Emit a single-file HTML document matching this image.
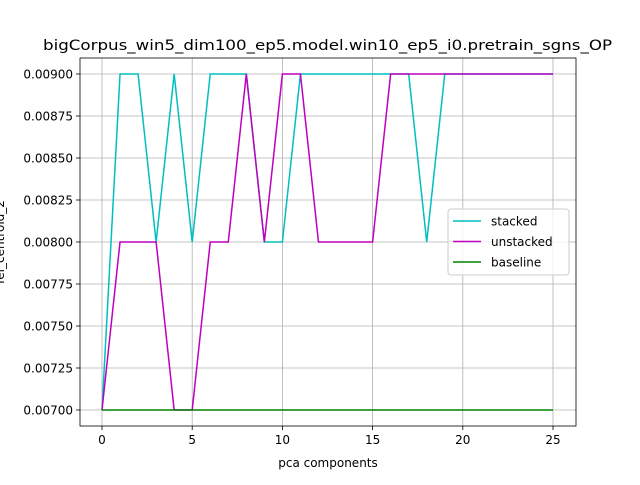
<!DOCTYPE html>
<html><head><meta charset="utf-8"><style>
body{margin:0;background:#fff;}
svg text{font-family:"DejaVu Sans","Liberation Sans",sans-serif;}
</style></head><body>
<svg id="c" width="640" height="480" xmlns="http://www.w3.org/2000/svg"></svg>
<script>
const xs = [0,1,2,3,4,5,6,7,8,9,10,11,12,13,14,15,16,17,18,19,20,21,22,23,24,25];
const stacked = [0.007,0.009,0.009,0.008,0.009,0.008,0.009,0.009,0.009,0.008,0.008,0.009,0.009,0.009,0.009,0.009,0.009,0.009,0.008,0.009,0.009,0.009,0.009,0.009,0.009,0.009];
const unstacked = [0.007,0.008,0.008,0.008,0.007,0.007,0.008,0.008,0.009,0.008,0.009,0.009,0.008,0.008,0.008,0.008,0.009,0.009,0.009,0.009,0.009,0.009,0.009,0.009,0.009,0.009];
const baseline = [0.007,0.007,0.007,0.007,0.007,0.007,0.007,0.007,0.007,0.007,0.007,0.007,0.007,0.007,0.007,0.007,0.007,0.007,0.007,0.007,0.007,0.007,0.007,0.007,0.007,0.007];
const xTicks = [0,5,10,15,20,25];
const yTicks = [0.007,0.00725,0.0075,0.00775,0.008,0.00825,0.0085,0.00875,0.009];
const L=80,R=576,T=58,B=426;
const X=v=>102+(v-0)*(553-102)/25;
const Y=v=>410-(v-0.007)*(410-74)/0.002;
const svg=document.getElementById('c');
const NS='http://www.w3.org/2000/svg';
function mk(t,a,p){const e=document.createElementNS(NS,t);for(const k in a)e.setAttribute(k,a[k]);(p||svg).appendChild(e);return e;}
xTicks.forEach(v=>{
  const g=mk('line',{x1:X(v),x2:X(v),y1:T,y2:B,stroke:'#b0b0b0','stroke-width':0.8});
  
  
  const tk=mk('line',{x1:X(v),x2:X(v),y1:B,y2:B+4,stroke:'#000','stroke-width':0.8});
  
  
  const t=mk('text',{x:X(v),y:B+18,'font-size':12,'text-anchor':'middle'});t.textContent=v;
  
  
});
yTicks.forEach(v=>{
  const g=mk('line',{x1:L,x2:R,y1:Y(v),y2:Y(v),stroke:'#b0b0b0','stroke-width':0.8});
  
  
  const tk=mk('line',{x1:L-4,x2:L,y1:Y(v),y2:Y(v),stroke:'#000','stroke-width':0.8});
  
  
  const t=mk('text',{x:L-7,y:Y(v)+4.5,'font-size':12,'text-anchor':'end'});t.textContent=v.toFixed(5);
  
  
});
function line(arr,color,name){
  const p=mk('polyline',{points:xs.map((x,i)=>X(x)+','+Y(arr[i])).join(' '),fill:'none',stroke:color,'stroke-width':1.5});
  
  
}
line(stacked,'#00bfbf','stacked-line');
line(unstacked,'#bf00bf','unstacked-line');
line(baseline,'#008000','baseline-line');
const fr=mk('rect',{x:L,y:T,width:R-L,height:B-T,fill:'none',stroke:'#000','stroke-width':0.8});


const ti=mk('text',{x:43,y:50,'font-size':14.4,textLength:569,lengthAdjust:'spacingAndGlyphs'});ti.textContent='bigCorpus_win5_dim100_ep5.model.win10_ep5_i0.pretrain_sgns_OP';


const xl=mk('text',{x:328,y:467,'font-size':12,'text-anchor':'middle'});xl.textContent='pca components';


const yl=mk('text',{x:0,y:0,'font-size':12,'text-anchor':'middle',transform:'translate(4,242) rotate(-90)'});yl.textContent='fel_centroid_2';


const lg=mk('g',{});


mk('rect',{x:448,y:209,width:121,height:66,rx:3,fill:'#fff','fill-opacity':0.8,stroke:'#ccc'},lg);
[['stacked','#00bfbf'],['unstacked','#bf00bf'],['baseline','#008000']].forEach((d,i)=>{
  const y=221+i*20.5;
  const e=mk('g',{},lg);
  
  
  mk('line',{x1:453,x2:481,y1:y,y2:y,stroke:d[1],'stroke-width':1.5},e);
  const t=mk('text',{x:491,y:y+4.5,'font-size':12},e);t.textContent=d[0];
});
</script>
</body></html>
